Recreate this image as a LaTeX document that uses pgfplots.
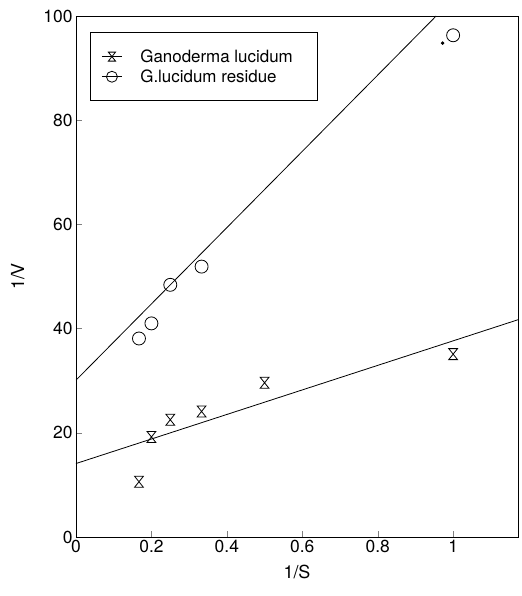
\documentclass[border=0pt]{standalone}
\usepackage{fontspec}
\setmainfont{TeX Gyre Heros}
\usepackage{pgfplots}
\pgfplotsset{compat=1.18}
\pgfdeclareplotmark{hourglass}{%
  \pgfpathmoveto{\pgfqpoint{-0.8\pgfplotmarksize}{\pgfplotmarksize}}%
  \pgfpathlineto{\pgfqpoint{0.8\pgfplotmarksize}{\pgfplotmarksize}}%
  \pgfpathlineto{\pgfqpoint{-0.8\pgfplotmarksize}{-\pgfplotmarksize}}%
  \pgfpathlineto{\pgfqpoint{0.8\pgfplotmarksize}{-\pgfplotmarksize}}%
  \pgfpathclose
  \pgfusepathqstroke}
\begin{document}
\begin{tikzpicture}
\begin{axis}[
  scale only axis, width=442bp, height=521bp,
  xmin=0, xmax=1.172, ymin=0, ymax=100,
  xtick={0,0.2,0.4,0.6,0.8,1}, ytick={0,20,40,60,80,100},
  tick align=inside, major tick length=6bp,
  xtick pos=bottom, ytick pos=left,
  /pgf/number format/assume math mode=true,
  tick label style={font=\fontsize{17.5}{20}\selectfont},
  label style={font=\fontsize{18}{21}\selectfont},
  xlabel={1/S}, ylabel={1/V},
  xlabel style={yshift=-5bp}, ylabel style={yshift=12bp},
  axis line style={line width=0.9bp},
  every axis plot/.append style={line width=0.8bp, black},
  legend style={at={(0.032,0.969)}, anchor=north west, draw=black, line width=0.8bp,
    font=\fontsize{17}{20}\selectfont, row sep=2bp, inner xsep=11bp, inner ysep=15bp,
    /tikz/every odd column/.append style={column sep=16bp}},
  legend cell align=left,
  legend image code/.code={\draw[#1] (0bp,0bp) -- (20bp,0bp); \draw[#1, mark repeat=1, mark phase=1] plot coordinates {(10bp,0bp)};},
  clip=true,
]
\addlegendimage{black, mark=hourglass, mark size=4.5bp, mark options={solid}}
\addlegendentry{\makebox[164bp][l]{Ganoderma lucidum}}
\addlegendimage{black, mark=o, mark size=5.5bp}
\addlegendentry{\makebox[164bp][l]{G.lucidum residue}}
\addplot[only marks, mark=hourglass, mark size=5.5bp] coordinates {
 (0.167,10.6) (0.2,19.2) (0.25,22.5) (0.333,24.1) (0.5,29.6) (1,35.1)};
\addplot[only marks, mark=o, mark size=6.5bp] coordinates {
 (0.167,38.1) (0.2,41.0) (0.25,48.4) (0.333,51.9) (1,96.3)};
\addplot[only marks, mark=*, mark size=1.3bp] coordinates {(0.972,94.8)};
\addplot[no marks] coordinates {(0,14.1) (1.172,41.7)};
\addplot[no marks] coordinates {(0,30.1) (0.955,100)};
\end{axis}
\pgfresetboundingbox
\path ([xshift=-76bp,yshift=-59bp]current axis.south west) rectangle ([xshift=4bp,yshift=16bp]current axis.north east);
\end{tikzpicture}
\end{document}
